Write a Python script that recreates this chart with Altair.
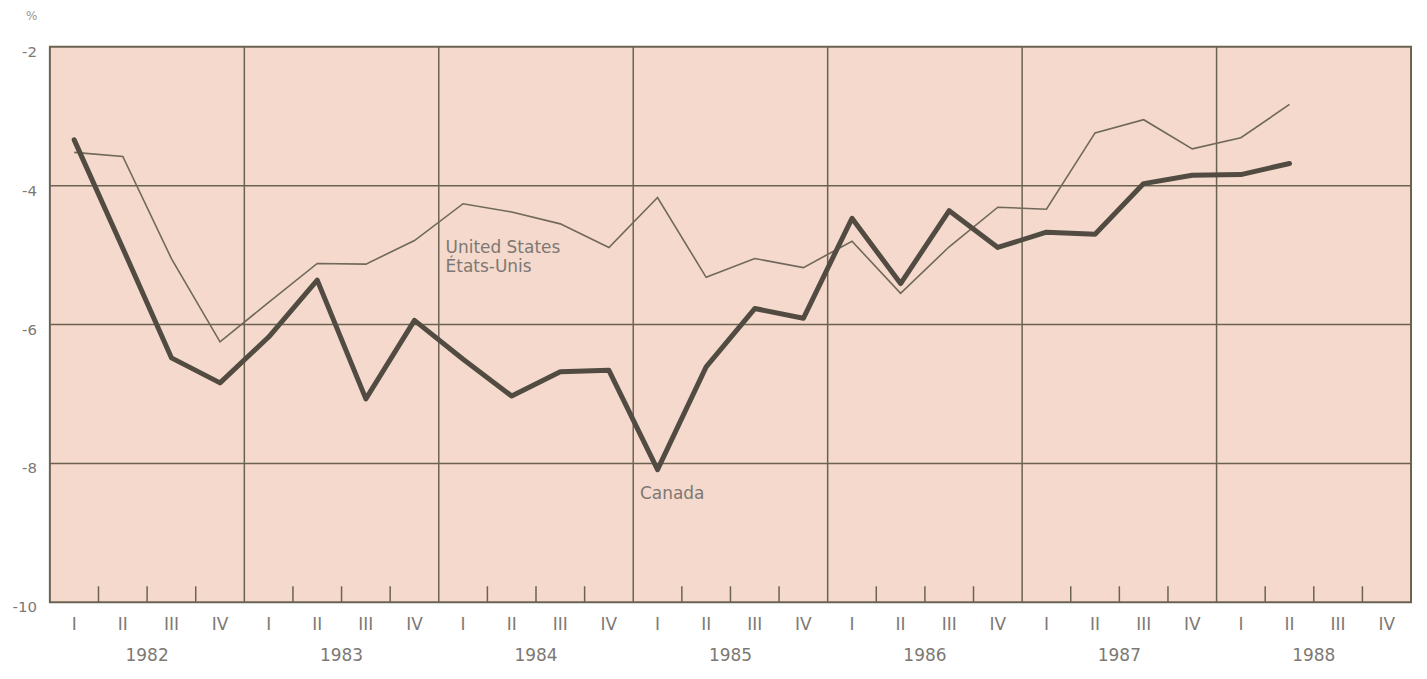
import altair as alt
import pandas as pd

years = [1982, 1983, 1984, 1985, 1986, 1987, 1988]
quarter_names = ["I", "II", "III", "IV"]
y_ticks = [-2, -4, -6, -8, -10]

canada = [-3.34, -4.9, -6.48, -6.84, -6.18, -5.36, -7.07, -5.94,
          -6.5, -7.03, -6.68, -6.66, -8.09, -6.61, -5.77, -5.91,
          -4.47, -5.41, -4.36, -4.89, -4.67, -4.70, -3.97, -3.85,
          -3.84, -3.68]
united_states = [-3.52, -3.58, -5.05, -6.25, -5.68, -5.12, -5.13, -4.79,
                 -4.26, -4.38, -4.55, -4.89, -4.17, -5.32, -5.05, -5.18,
                 -4.80, -5.55, -4.88, -4.31, -4.34, -3.24, -3.05, -3.47,
                 -3.31, -2.83]

W, H = 1365, 557
PXX = W / 28.0
PXY = H / 8.0
GRID = "#6b6352"
TEXT = "#7d7873"
FONT = "DejaVu Sans"

xs = alt.Scale(domain=[0, 28], nice=False, zero=False)
ys = alt.Scale(domain=[-10, -2], nice=False, zero=False)

def X(f="q"):
    return alt.X(f + ":Q", scale=xs, axis=None)

def Y(f="v"):
    return alt.Y(f + ":Q", scale=ys, axis=None)

ca_df = pd.DataFrame({"q": [i + 0.5 for i in range(len(canada))], "v": canada})
us_df = pd.DataFrame({"q": [i + 0.5 for i in range(len(united_states))], "v": united_states})

hgrid = pd.DataFrame({"v": [-4, -6, -8]})
vgrid = pd.DataFrame({"q": [4 * k for k in range(1, len(years))]})
tick_q = [q for q in range(1, 28) if q % 4 != 0]
ticks = pd.DataFrame({"q": tick_q, "y1": [-10.0] * len(tick_q),
                      "y2": [-10 + 16 / PXY] * len(tick_q)})
qlabels = pd.DataFrame({"q": [i + 0.5 for i in range(28)],
                        "v": [-10 - 23 / PXY] * 28,
                        "t": [quarter_names[i % 4] for i in range(28)]})
ylabels = pd.DataFrame({"q": [4 * k + 2 for k in range(len(years))],
                        "v": [-10 - 54 / PXY] * len(years),
                        "t": [str(y) for y in years]})
vlabels = pd.DataFrame({"q": [-13 / PXX] * len(y_ticks), "v": y_ticks,
                        "t": [str(v) for v in y_ticks]})
series_labels = pd.DataFrame({"q": [8.14, 8.14, 12.14],
                              "v": [-4.97, -5.25, -8.52],
                              "t": ["United States", "États-Unis", "Canada"]})
pct_df = pd.DataFrame({"q": [-24 / PXX], "v": [-2 + 31 / PXY], "t": ["%"]})

hg = alt.Chart(hgrid).mark_rule(color=GRID, strokeWidth=1.5).encode(y=Y())
vg = alt.Chart(vgrid).mark_rule(color=GRID, strokeWidth=1.5).encode(x=X())
tk = alt.Chart(ticks).mark_rule(color=GRID, strokeWidth=1.5).encode(
    x=X(), y=Y("y1"), y2="y2:Q")

us_line = alt.Chart(us_df).mark_line(color="#70685a", strokeWidth=1.6).encode(
    x=X(), y=Y())
ca_line = alt.Chart(ca_df).mark_line(
    color="#514b42", strokeWidth=5, strokeJoin="round", strokeCap="round").encode(
    x=X(), y=Y())

sl = alt.Chart(series_labels).mark_text(
    font=FONT, fontSize=17, color=TEXT, align="left", baseline="alphabetic").encode(
    x=X(), y=Y(), text="t:N")
ql = alt.Chart(qlabels).mark_text(
    font=FONT, fontSize=17, color=TEXT, baseline="middle").encode(
    x=X(), y=Y(), text="t:N")
yl = alt.Chart(ylabels).mark_text(
    font=FONT, fontSize=17, color=TEXT, baseline="middle").encode(
    x=X(), y=Y(), text="t:N")
vl = alt.Chart(vlabels).mark_text(
    font=FONT, fontSize=15, color=TEXT, align="right", baseline="middle", dy=5).encode(
    x=X(), y=Y(), text="t:N")
pct = alt.Chart(pct_df).mark_text(
    font=FONT, fontSize=12, color="#9a9590", align="left", baseline="middle").encode(
    x=X(), y=Y(), text="t:N")

chart = alt.layer(hg, vg, tk, us_line, ca_line, sl, ql, yl, vl, pct).properties(
    width=W, height=H,
    autosize=alt.AutoSizeParams(type="none"),
    padding={"left": 42, "top": 38, "right": 8, "bottom": 64},
    background="#ffffff",
).configure_view(fill="#f4d9cc", stroke=GRID, strokeWidth=2)

chart.save("out.html", embed_options={"renderer": "svg", "actions": False})
